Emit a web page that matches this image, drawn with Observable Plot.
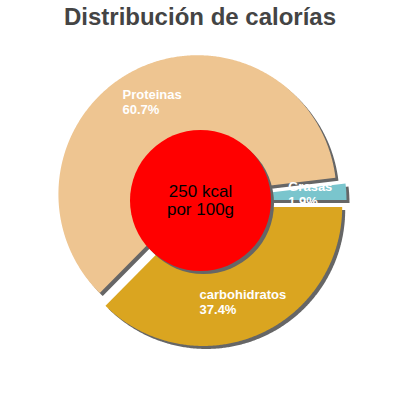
<!DOCTYPE html>
<html><head><meta charset="utf-8">
<script src="https://cdn.jsdelivr.net/npm/d3@7"></script>
<script src="https://cdn.jsdelivr.net/npm/@observablehq/plot@0.6"></script>
<style>
body{margin:0;background:#fff;font-family:"Liberation Sans",Arial,sans-serif;}
#title{height:34px;line-height:34px;text-align:center;font-size:24px;font-weight:bold;color:#444;white-space:nowrap;}
#chart svg{display:block;}
</style></head><body>
<div id="title">Distribución de calorías</div>
<div id="chart"></div>
<script>
// Data (counter-clockwise from 3 o'clock)
const categories = ["Grasas", "Proteinas", "carbohidratos"];
const percents = [1.9, 60.7, 37.4];
const colors = ["#7AC5CD", "#EEC591", "#DAA520"];
const centerLines = ["250 kcal", "por 100g"];

// Geometry / style
const R = 139, EXPLODE = 7, SHADOW = 3, HOLE = 70.5, LABEL_R = 110;
const LABEL_FONT = "bold 13px 'Liberation Sans'";
const ctx = document.createElement("canvas").getContext("2d");
ctx.font = LABEL_FONT;

const total = d3.sum(percents);
let acc = 0;
const slices = categories.map((c, i) => {
  const a0 = acc / total * 2 * Math.PI;
  acc += percents[i];
  const a1 = acc / total * 2 * Math.PI;
  return {category: c, value: percents[i], a0, a1, mid: (a0 + a1) / 2};
});

const polyRows = [];
for (const s of slices) {
  const ox = EXPLODE * Math.cos(s.mid), oy = -EXPLODE * Math.sin(s.mid);
  polyRows.push({category: s.category, x: ox, y: oy});
  const n = Math.max(2, Math.ceil((s.a1 - s.a0) * 180 / Math.PI * 2));
  for (let k = 0; k <= n; k++) {
    const t = s.a0 + (s.a1 - s.a0) * k / n;
    polyRows.push({category: s.category, x: ox + R * Math.cos(t), y: oy - R * Math.sin(t)});
  }
}

const labelRows = slices.map(s => {
  const lines = [s.category, s.value.toFixed(1) + "%"];
  const w = d3.max(lines, l => ctx.measureText(l).width);
  return {
    category: s.category,
    text: lines.join("\n"),
    x: LABEL_R * Math.cos(s.mid) - w / 2,
    y: -LABEL_R * Math.sin(s.mid)
  };
});

const center = [{x: 0, y: 0, text: centerLines.join("\n")}];

const plot = Plot.plot({
  width: 400,
  height: 366,
  margin: 0,
  x: {domain: [-200, 200], range: [0, 400], axis: null},
  y: {domain: [-166, 200], range: [0, 366], axis: null},
  color: {domain: categories, range: colors},
  style: {fontFamily: "'Liberation Sans', Arial, sans-serif", background: "white"},
  marks: [
    Plot.line(polyRows, {x: "x", y: "y", z: "category", fill: "#666666", stroke: "none", curve: "linear-closed", dx: SHADOW, dy: SHADOW}),
    Plot.line(polyRows, {x: "x", y: "y", z: "category", fill: "category", stroke: "none", curve: "linear-closed"}),
    Plot.dot(center, {x: "x", y: "y", r: HOLE, fill: "#666666", dx: SHADOW, dy: SHADOW}),
    Plot.dot(center, {x: "x", y: "y", r: HOLE, fill: "#FF0000"}),
    Plot.text(center, {x: "x", y: "y", text: "text", fill: "black", fontSize: 17, lineHeight: 1.02, lineAnchor: "middle"}),
    Plot.text(labelRows, {x: "x", y: "y", text: "text", fill: "white", fontSize: 13, fontWeight: "bold", lineHeight: 1.15, textAnchor: "start", lineAnchor: "middle"})
  ]
});
document.getElementById("chart").appendChild(plot);
</script>
</body></html>
